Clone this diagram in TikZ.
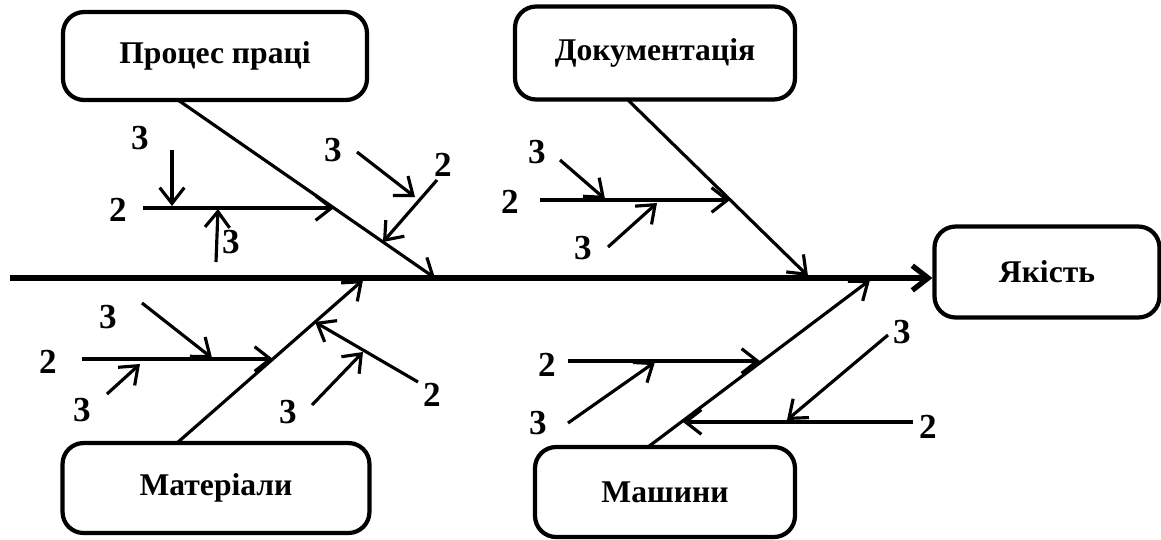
\documentclass[tikz,border=0pt]{standalone}
\usepackage{fontspec}
\setmainfont{Liberation Serif}
\usepackage{tikz}
\usetikzlibrary{arrows.meta}

\begin{document}
\begin{tikzpicture}[x=0.02cm,y=-0.02cm,>={Straight Barb[length=9pt,width=14pt]},
  box/.style={draw,line width=2.4pt,rounded corners=12pt,inner sep=0pt,font=\fontsize{18}{21}\selectfont\bfseries},
  num/.style={inner sep=0pt,font=\fontsize{20}{22}\selectfont\bfseries},
  bone/.style={->,line width=1.8pt},
  spine/.style={->,line width=3pt}]
\useasboundingbox (0,0) rectangle (1161,539);
\node[box,minimum width=6.08cm,minimum height=1.76cm] (proc) at (215,56) {Процес праці};
\node[box,minimum width=5.6cm,minimum height=1.86cm] (doc) at (655,53) {Документація};
\node[box,minimum width=6.14cm,minimum height=1.8cm] (mat) at (216,488) {Матеріали};
\node[box,minimum width=5.2cm,minimum height=1.8cm] (mash) at (665,492) {Машини};
\node[box,minimum width=4.5cm,minimum height=1.82cm] (yak) at (1047,272) {Якість};
\coordinate (tail) at (10,278);
\draw[spine] (tail) -- (yak.west |- tail);
\coordinate (p0) at (178,100);
\coordinate (p1) at (435,278);
\coordinate (m0) at (177,443);
\coordinate (m1) at (363,280);
\coordinate (d0) at (628,100);
\coordinate (d1) at (808,276);
\coordinate (s0) at (648,447);
\coordinate (s1) at (870,280);
\draw[bone] (p0) -- (p1);
\draw[bone] (m0) -- (m1);
\draw[bone] (d0) -- (d1);
\draw[bone] (s0) -- (s1);
\node[num] (pa) at (118,210) {2};
\node[num] (pb) at (140,138) {3};
\node[num] (pc) at (231,242) {3};
\node[num] (pd) at (333,150) {3};
\node[num] (pe) at (443,165) {2};
\coordinate (pa0) at (143,208);
\coordinate (pa1) at (334,208);
\coordinate (pb0) at (172,150);
\coordinate (pb1) at (172,206);
\coordinate (pc0) at (216,262);
\coordinate (pc1) at (218,209);
\coordinate (pd0) at (357,152);
\coordinate (pd1) at (415,197);
\coordinate (pe0) at (437,180);
\coordinate (pe1) at (383,242);
\draw[bone] (pa0) -- (pa1);
\draw[bone] (pb0) -- (pb1);
\draw[bone] (pc0) -- (pc1);
\draw[bone] (pd0) -- (pd1);
\draw[bone] (pe0) -- (pe1);
\node[num] (ma) at (48,362) {2};
\node[num] (mb) at (108,317) {3};
\node[num] (mc) at (82,410) {3};
\node[num] (md) at (288,412) {3};
\node[num] (me) at (432,395) {2};
\coordinate (ma0) at (82,359);
\coordinate (ma1) at (273,359);
\coordinate (mb0) at (142,303);
\coordinate (mb1) at (212,358);
\coordinate (mc0) at (107,394);
\coordinate (mc1) at (140,364);
\coordinate (md0) at (312,405);
\coordinate (md1) at (363,352);
\coordinate (me0) at (418,382);
\coordinate (me1) at (315,322);
\draw[bone] (ma0) -- (ma1);
\draw[bone] (mb0) -- (mb1);
\draw[bone] (mc0) -- (mc1);
\draw[bone] (md0) -- (md1);
\draw[bone] (me0) -- (me1);
\node[num] (da) at (510,202) {2};
\node[num] (db) at (537,152) {3};
\node[num] (dc) at (583,248) {3};
\coordinate (da0) at (540,200);
\coordinate (da1) at (730,200);
\coordinate (db0) at (560,160);
\coordinate (db1) at (605,199);
\coordinate (dc0) at (608,247);
\coordinate (dc1) at (657,203);
\draw[bone] (da0) -- (da1);
\draw[bone] (db0) -- (db1);
\draw[bone] (dc0) -- (dc1);
\node[num] (sa) at (547,365) {2};
\node[num] (sb) at (538,423) {3};
\node[num] (sc) at (928,427) {2};
\node[num] (sd) at (902,332) {3};
\coordinate (sa0) at (568,361);
\coordinate (sa1) at (760,361);
\coordinate (sb0) at (568,423);
\coordinate (sb1) at (655,362);
\coordinate (sc0) at (913,422);
\coordinate (sc1) at (683,422);
\coordinate (sd0) at (888,335);
\coordinate (sd1) at (787,420);
\draw[bone] (sa0) -- (sa1);
\draw[bone] (sb0) -- (sb1);
\draw[bone] (sc0) -- (sc1);
\draw[bone] (sd0) -- (sd1);
\end{tikzpicture}
\end{document}
